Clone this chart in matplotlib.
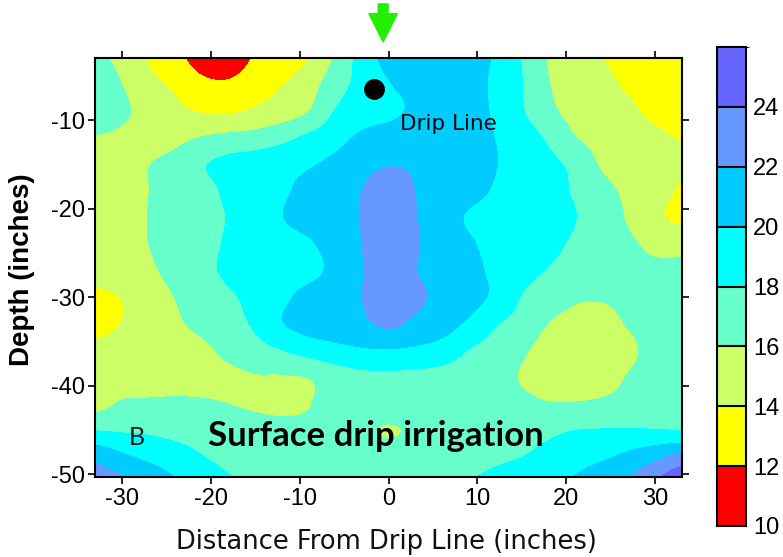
import numpy as np
import matplotlib
matplotlib.use('Agg')
import matplotlib.pyplot as plt
from matplotlib.patches import FancyArrow
from matplotlib.colors import ListedColormap, BoundaryNorm

plt.rcParams['font.family'] = ['Liberation Sans', 'DejaVu Sans']
plt.rcParams['axes.unicode_minus'] = False

# ---- data -----------------------------------------------------------
x_dist = [-33, -30, -27, -24, -21, -18, -15, -12, -9, -6, -3, 0,
          3, 6, 9, 12, 15, 18, 21, 24, 27, 30, 33]
y_depth = [-3, -6, -9, -12, -15, -18, -21, -24, -27, -30, -33, -36,
           -39, -42, -45, -48, -51]

row_m03 = [16.8, 15.3, 13.9, 12.6, 11.3, 11.0, 12.2, 13.2, 14.0, 16.3, 18.8, 20.6, 21.0, 21.2, 20.8, 19.8, 17.95, 15.9, 15.0, 14.1, 13.2, 12.7, 12.4]
row_m06 = [17.6, 16.05, 14.6, 13.7, 12.5, 12.3, 13.2, 13.95, 15.1, 17.2, 18.6, 19.9, 20.6, 21.3, 20.9, 19.6, 18.1, 16.1, 15.2, 14.6, 13.7, 12.9, 12.5]
row_m09 = [17.3, 16.4, 15.3, 14.5, 13.9, 13.8, 14.3, 14.9, 16.0, 18.1, 19.0, 19.5, 20.4, 21.2, 21.0, 19.7, 18.2, 16.5, 15.4, 14.9, 14.4, 13.5, 13.0]
row_m12 = [15.9, 15.6, 15.2, 15.5, 16.1, 16.5, 16.8, 17.5, 18.4, 19.3, 20.4, 21.0, 21.3, 21.4, 21.2, 20.0, 19.0, 17.7, 16.1, 15.3, 14.8, 14.4, 13.9]
row_m15 = [15.3, 15.1, 15.95, 16.6, 17.8, 18.6, 19.0, 19.3, 19.8, 20.5, 21.4, 21.9, 21.8, 21.5, 21.2, 20.1, 19.3, 18.5, 17.5, 15.8, 15.1, 14.7, 14.3]
row_m18 = [15.2, 15.1, 15.98, 16.7, 17.3, 18.4, 19.0, 19.7, 20.6, 21.2, 22.0, 23.0, 22.0, 21.4, 20.8, 19.8, 19.0, 18.6, 17.8, 16.6, 15.6, 14.8, 13.8]
row_m21 = [15.1, 15.1, 16.05, 16.7, 17.2, 18.1, 19.0, 19.95, 20.7, 21.3, 22.1, 23.3, 22.1, 21.2, 19.8, 19.2, 18.9, 18.6, 18.05, 17.1, 15.8, 14.4, 13.6]
row_m24 = [15.2, 15.2, 16.0, 16.6, 17.2, 18.3, 19.0, 19.3, 19.8, 20.8, 22.0, 23.5, 22.2, 21.3, 20.3, 19.4, 18.9, 18.5, 17.7, 16.9, 16.3, 15.6, 15.5]
row_m27 = [15.3, 15.3, 15.7, 16.6, 17.4, 18.4, 19.0, 19.1, 19.5, 20.5, 21.9, 23.3, 22.1, 21.2, 20.6, 19.6, 18.7, 17.9, 17.1, 16.6, 16.4, 16.3, 16.3]
row_m30 = [13.4, 14.1, 15.0, 16.05, 16.9, 17.7, 18.6, 19.6, 20.6, 21.2, 22.0, 23.0, 22.4, 21.5, 20.8, 19.6, 17.95, 16.8, 16.2, 16.1, 16.3, 16.5, 16.6]
row_m33 = [13.5, 14.05, 15.0, 15.7, 16.5, 17.3, 18.3, 19.9, 20.8, 21.2, 21.6, 22.4, 21.6, 20.9, 19.7, 18.2, 17.3, 16.0, 15.6, 15.6, 16.1, 16.6, 16.7]
row_m36 = [14.4, 14.7, 15.0, 15.2, 15.6, 16.5, 17.3, 18.0, 18.8, 19.4, 19.8, 19.9, 19.7, 19.2, 18.0, 17.2, 16.3, 15.3, 14.9, 15.1, 15.7, 16.5, 16.8]
row_m39 = [14.9, 15.0, 15.1, 15.3, 15.4, 15.6, 15.9, 15.9, 16.1, 17.0, 17.5, 17.6, 17.5, 17.3, 17.0, 16.5, 15.9, 15.2, 15.0, 15.3, 16.1, 16.6, 16.8]
row_m42 = [15.3, 16.2, 16.3, 16.3, 16.2, 16.0, 15.8, 15.7, 15.95, 16.5, 16.9, 16.9, 16.8, 16.7, 16.6, 16.5, 16.4, 16.1, 16.1, 16.3, 16.6, 16.9, 17.1]
row_m45 = [17.95, 17.8, 17.7, 17.4, 17.1, 16.8, 16.6, 16.4, 16.3, 16.2, 16.2, 15.9, 16.2, 16.4, 16.7, 17.0, 17.3, 17.6, 18.0, 18.1, 18.15, 18.1, 18.0]
row_m48 = [21.5, 20.4, 19.6, 18.9, 18.1, 17.4, 17.0, 16.8, 16.6, 16.5, 16.5, 16.6, 16.7, 16.9, 17.2, 17.6, 18.0, 18.6, 19.2, 19.7, 20.5, 21.5, 22.6]
row_m51 = [23.0, 22.5, 21.4, 20.2, 19.3, 18.3, 17.65, 17.2, 17.0, 16.9, 16.9, 17.0, 17.2, 17.55, 18.0, 18.6, 19.3, 19.9, 20.25, 21.4, 22.3, 24.0, 26.0]

moisture_rows = [row_m03, row_m06, row_m09, row_m12, row_m15, row_m18,
                 row_m21, row_m24, row_m27, row_m30, row_m33, row_m36,
                 row_m39, row_m42, row_m45, row_m48, row_m51]

levels = [10, 12, 14, 16, 18, 20, 22, 24, 26]
level_colors = ['#FF0000', '#FFFF00', '#CCFF66', '#66FFCC',
                '#00FFFF', '#00CCFF', '#6699FF', '#6666FF']
cbar_ticks = [10, 12, 14, 16, 18, 20, 22, 24]
x_ticks = [-30, -20, -10, 0, 10, 20, 30]
y_ticks = [-50, -40, -30, -20, -10]

emitter_x, emitter_y = -1.6, -6.5      # black dot
arrow_x = -0.6                          # green arrow (drip line)

# ---- figure ---------------------------------------------------------
W, H = 783, 557
fig = plt.figure(figsize=(W / 100, H / 100), dpi=100)
ax = fig.add_axes([95 / W, 80 / H, 587 / W, 419 / H])
cax = fig.add_axes([717 / W, 31 / H, 29 / W, 479 / H])

Z = np.array(moisture_rows)
dx = x_dist[1] - x_dist[0]
dy = y_depth[0] - y_depth[1]
extent = [x_dist[0] - dx / 2, x_dist[-1] + dx / 2,
          y_depth[-1] - dy / 2, y_depth[0] + dy / 2]
cmap = ListedColormap(level_colors)
norm = BoundaryNorm(levels, cmap.N)
im = ax.imshow(Z, extent=extent, origin='upper', cmap=cmap, norm=norm,
               interpolation='catrom', interpolation_stage='data',
               aspect='auto')

ax.set_xlim(-33, 33)
ax.set_ylim(-50.3, -3)
ax.set_xticks(x_ticks)
ax.set_yticks(y_ticks)
ax.tick_params(direction='out', length=5, width=1.2, top=True, right=True,
               labeltop=False, labelright=False, labelsize=17, colors='black')
ax.tick_params(axis='x', pad=3)
ax.tick_params(axis='y', pad=2)
for sp in ax.spines.values():
    sp.set_linewidth(1.5)
    sp.set_color('black')

ax.set_xlabel('Distance From Drip Line (inches)', fontsize=18.5,
              family='DejaVu Sans', color='#111111')
ax.xaxis.set_label_coords(0.4966, -0.125)
ax.set_ylabel('Depth (inches)', fontsize=20, fontweight='bold')
ax.yaxis.set_label_coords(-0.102, 0.494)

# annotations
ax.plot([emitter_x], [emitter_y], 'o', color='black', markersize=14)
ax.text(1.3, -10.45, 'Drip Line', fontsize=15.5, family='DejaVu Sans',
        ha='left', va='center', color='#0a0a0a')
ax.text(-28.3, -46.7, 'B', fontsize=18, family='Lato', ha='center',
        va='baseline', color='#1a1a1a')
ax.text(-20.3, -46.8, 'Surface drip irrigation', fontsize=25,
        family='Lato', fontweight='bold', ha='left', va='baseline',
        color='black')
arrow = FancyArrow(arrow_x, 3.1, 0, -4.3, width=1.1, head_width=3.2,
                   head_length=3.2, length_includes_head=True,
                   color='#22F000', clip_on=False, zorder=5)
ax.add_patch(arrow)

cb = fig.colorbar(im, cax=cax, drawedges=True, ticks=cbar_ticks,
                  boundaries=levels)
cb.outline.set_linewidth(1.5)
cb.outline.set_edgecolor('black')
cb.dividers.set_color('black')
cb.dividers.set_linewidth(1.5)
cax.tick_params(length=0, labelsize=17, pad=5)

fig.savefig('out.png', dpi=100)
